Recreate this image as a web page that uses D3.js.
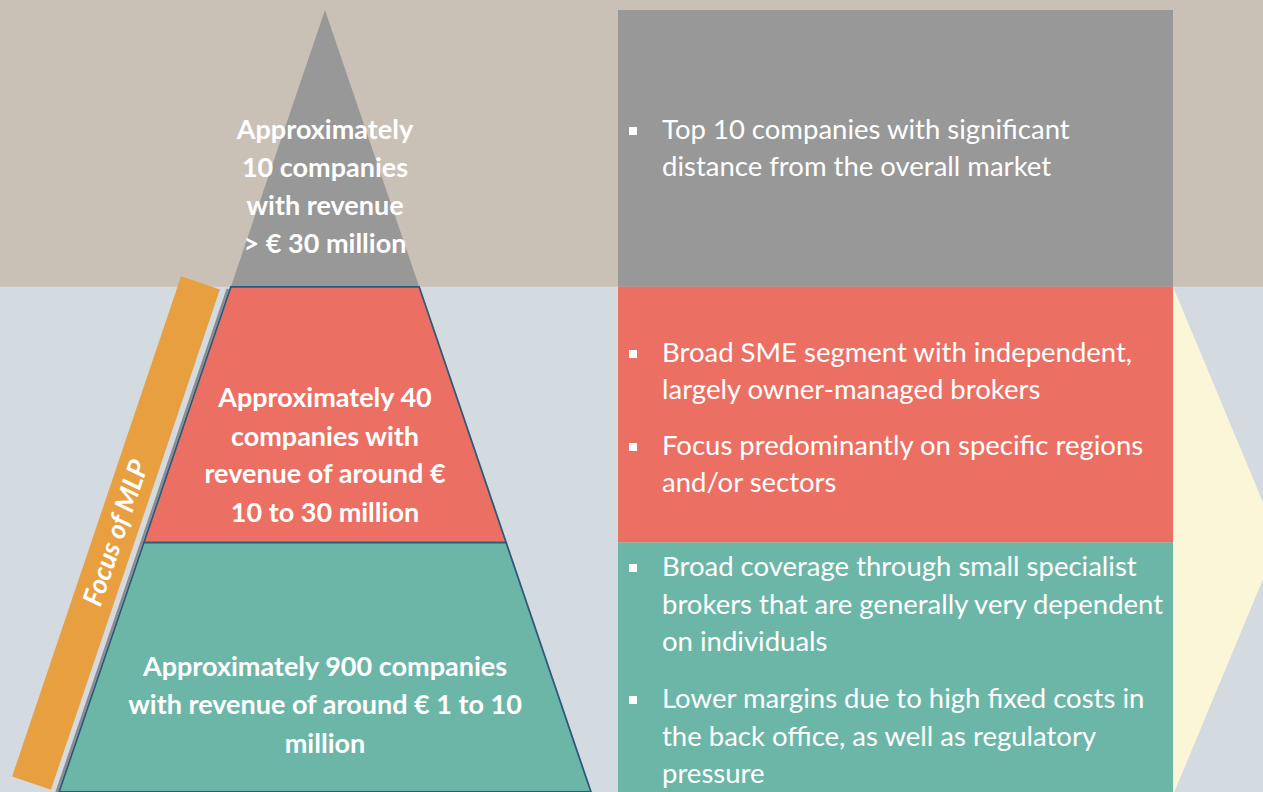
<!DOCTYPE html>
<html>
<head>
<meta charset="utf-8">
<script src="https://cdn.jsdelivr.net/npm/d3@7"></script>
<style>
  html, body { margin: 0; padding: 0; background: #D3DBE1; }
  svg { display: block; }
</style>
</head>
<body>
<svg></svg>
<script>
var tierNames = ["top", "middle", "base"];
var tierColors = ["#989898", "#EB7063", "#6CB6A8"];
// share of the pyramid height where each tier starts / ends
var tierBreaks = [0, 0.354, 0.681, 1];

var tierLabels = [
  ["Approximately", "10 companies", "with revenue", "> € 30 million"],
  ["Approximately 40", "companies with", "revenue of around €", "10 to 30 million"],
  ["Approximately 900 companies", "with revenue of around € 1 to 10", "million"]
];
var tierBaselines = [[139, 177, 215, 253], [407, 446, 483, 522], [676, 714, 753]];

var tierNotes = [
  [["Top 10 companies with significant", "distance from the overall market"]],
  [["Broad SME segment with independent,", "largely owner-managed brokers"],
   ["Focus predominantly on specific regions", "and/or sectors"]],
  [["Broad coverage through small specialist", "brokers that are generally very dependent", "on individuals"],
   ["Lower margins due to high fixed costs in", "the back office, as well as regulatory", "pressure"]]
];
var noteBaselines = [[[139, 176]], [[362, 399], [455, 492]], [[576, 614, 651], [708, 746, 783]]];

var focusLabel = "Focus of MLP";

var svgWidth = 1263, svgHeight = 792;
var cx = 325;

var svg = d3.select("svg")
    .attr("width", svgWidth)
    .attr("height", svgHeight);

var y = d3.scaleLinear().domain([0, 1]).range([10, 792]);
var halfW = d3.scaleLinear().domain([0, 1]).range([0, 266]);

// background bands
svg.append("rect")
    .attr("x", 0).attr("y", 0)
    .attr("width", svgWidth).attr("height", y(tierBreaks[1]))
    .attr("fill", "#C9C1B5");
svg.append("rect")
    .attr("x", 0).attr("y", y(tierBreaks[1]))
    .attr("width", svgWidth).attr("height", svgHeight - y(tierBreaks[1]))
    .attr("fill", "#D3DBE1");

// arrow on the right
var arrowTop = y(tierBreaks[1]), arrowBottom = 795, arrowX = 1173;
svg.append("path")
    .attr("d", "M" + arrowX + "," + arrowTop + " L1279," + ((arrowTop + arrowBottom) / 2) +
        " L" + arrowX + "," + arrowBottom + " Z")
    .attr("fill", "#FCF6D9");

// right panels
svg.selectAll("rect.panel")
    .data(tierNames)
    .enter()
    .append("rect")
    .attr("class", "panel")
    .attr("x", 618)
    .attr("y", (d, i) => y(tierBreaks[i]))
    .attr("width", arrowX - 618)
    .attr("height", (d, i) => y(tierBreaks[i + 1]) - y(tierBreaks[i]))
    .attr("fill", (d, i) => tierColors[i]);

// orange focus bar
var bar = svg.append("g")
    .attr("transform", "translate(116,533) rotate(-71.34)");
bar.append("rect")
    .attr("x", -264).attr("y", -20.5)
    .attr("width", 528).attr("height", 41)
    .attr("fill", "#E89F40");
bar.append("text")
    .attr("x", 0).attr("y", 9)
    .attr("text-anchor", "middle")
    .attr("font-family", "Lato, sans-serif")
    .attr("font-weight", "bold")
    .attr("font-style", "italic")
    .attr("font-size", 27)
    .attr("fill", "white")
    .text(focusLabel);

// pyramid
function trapezoid(i) {
  var a = tierBreaks[i], b = tierBreaks[i + 1];
  return "M" + (cx - halfW(a)) + "," + y(a) +
         " L" + (cx + halfW(a)) + "," + y(a) +
         " L" + (cx + halfW(b)) + "," + y(b) +
         " L" + (cx - halfW(b)) + "," + y(b) + " Z";
}

// soft shadow under lower tiers
svg.append("path")
    .attr("d", "M" + (cx - halfW(tierBreaks[1])) + "," + y(tierBreaks[1]) +
        " L" + (cx - halfW(1)) + "," + y(1))
    .attr("transform", "translate(-3,2)")
    .attr("stroke", "#8C8C8C")
    .attr("stroke-width", 2.5)
    .attr("fill", "none");

svg.selectAll("path.tier")
    .data(tierNames)
    .enter()
    .append("path")
    .attr("class", "tier")
    .attr("d", (d, i) => trapezoid(i))
    .attr("fill", (d, i) => tierColors[i])
    .attr("stroke", (d, i) => i === 0 ? "none" : "#2C5A78")
    .attr("stroke-width", 1.8)
    .attr("stroke-linejoin", "miter");

// pyramid labels
tierLabels.forEach(function (lines, i) {
  svg.append("text")
      .attr("text-anchor", "middle")
      .attr("font-family", "Lato, sans-serif")
      .attr("font-weight", "bold")
      .attr("font-size", 27)
      .attr("fill", "white")
      .selectAll("tspan")
      .data(lines)
      .enter()
      .append("tspan")
      .attr("x", cx)
      .attr("y", (d, j) => tierBaselines[i][j])
      .text(d => d);
});

// panel notes
tierNotes.forEach(function (notes, i) {
  notes.forEach(function (lines, k) {
    var base = noteBaselines[i][k];
    svg.append("rect")
        .attr("x", 629).attr("y", base[0] - 12)
        .attr("width", 8).attr("height", 8)
        .attr("fill", "white");
    svg.append("text")
        .attr("font-family", "Lato, sans-serif")
        .attr("font-size", 27.5)
        .attr("fill", "white")
        .selectAll("tspan")
        .data(lines)
        .enter()
        .append("tspan")
        .attr("x", 662)
        .attr("y", (d, j) => base[j])
        .text(d => d);
  });
});
</script>
</body>
</html>
